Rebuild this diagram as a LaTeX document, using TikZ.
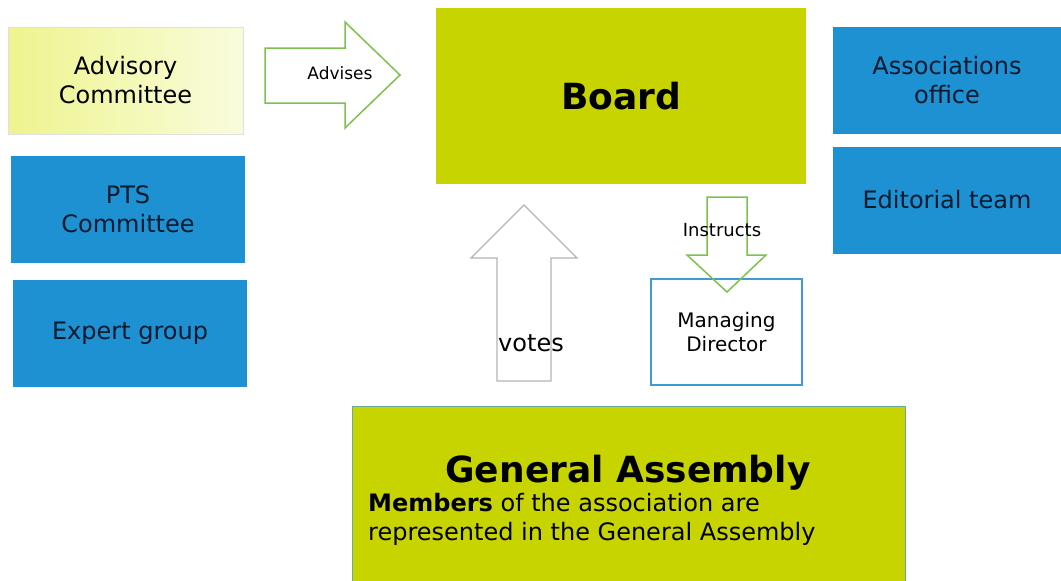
\documentclass[tikz,border=0pt]{standalone}
\usepackage{fontspec}
\setmainfont{DejaVu Sans}

\definecolor{boardgreen}{HTML}{C8D400}
\definecolor{officeblue}{HTML}{1E91D2}
\definecolor{advyellow}{HTML}{EEF48E}
\definecolor{advpale}{HTML}{F9FCDC}
\definecolor{arrowgreen}{HTML}{7DC14E}
\definecolor{arrowgrey}{HTML}{B4B4B4}
\definecolor{frameblue}{HTML}{3F9BD6}
\definecolor{textnavy}{HTML}{0B1A2E}

\tikzset{
  unitbox/.style={rectangle, inner sep=0pt, align=center, font=\fontsize{24}{29}\selectfont},
  bluebox/.style={unitbox, fill=officeblue, text=textnavy, minimum width=234, minimum height=107},
  greenbox/.style={unitbox, fill=boardgreen},
  blockarrow/.style={fill=white, line width=1.5pt, line join=miter},
}

\begin{document}
\begin{tikzpicture}[x=1pt,y=-1pt]

\clip (0,0) rectangle (1061,581);

% Left column
\node[unitbox, left color=advyellow, right color=advpale, draw=black!12,
  minimum width=235, minimum height=107] (advisory) at (125.5,80.5) {Advisory\\Committee};
\node[bluebox] (pts) at (128,209.5) {PTS\\Committee};
\node[bluebox] (expert) at (130,333) {Expert group};

% Board
\node[greenbox, minimum width=370, minimum height=176,
  font=\fontsize{36}{43}\selectfont\bfseries] (board) at (621,96) {Board};

% Right column
\node[bluebox, minimum width=228] (office) at (947,80) {Associations\\office};
\node[bluebox, minimum width=228] (editorial) at (947,200) {Editorial team};

% Managing director
\node[unitbox, draw=frameblue, line width=1.2pt, fill=white, minimum width=151, minimum height=106,
  font=\fontsize{20}{24}\selectfont] (director) at (726.5,332) {Managing\\Director};

% General assembly
\node[greenbox, draw=frameblue!70!boardgreen, line width=1pt,
  minimum width=553, minimum height=190] (assembly) at (628.5,501) {};
\node[font=\fontsize{36}{43}\selectfont\bfseries, anchor=base] (gatitle) at (628,482) {General Assembly};
\node[font=\fontsize{24}{29}\selectfont, align=left, anchor=west, inner sep=0pt] (members) at (368,519)
  {\textbf{Members} of the association are\\represented in the General Assembly};

% Block arrows
\draw[blockarrow, draw=arrowgreen] (265,48) -- (345,48) -- (345,22) -- (400,75)
  -- (345,128) -- (345,103) -- (265,103) -- cycle;
\node[font=\fontsize{17}{20}\selectfont] (advises) at (340,73) {Advises};

\draw[blockarrow, draw=arrowgrey, line width=1.2pt] (497,381) -- (497,258) -- (471,258) -- (524,205)
  -- (577,258) -- (551,258) -- (551,381) -- cycle;
\node[font=\fontsize{24}{29}\selectfont] (votes) at (531,343) {votes};

\draw[blockarrow, draw=arrowgreen, fill=none] (707,197) -- (747,197) -- (747,255) -- (766,255)
  -- (727,292) -- (687,255) -- (707,255) -- cycle;
\node[font=\fontsize{18}{22}\selectfont] (instructs) at (722,230) {Instructs};

\end{tikzpicture}
\end{document}
